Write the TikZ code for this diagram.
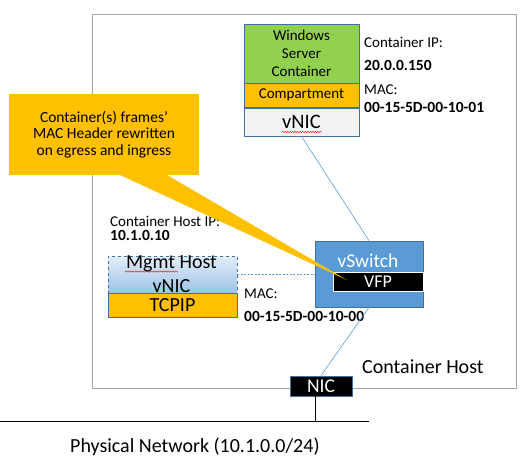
\documentclass[tikz,border=0pt]{standalone}
\usepackage{fontspec}
\setmainfont{Carlito}
\usetikzlibrary{decorations.pathmorphing}
\definecolor{hostgray}{HTML}{A6A6A6}
\definecolor{boxblue}{HTML}{41719C}
\definecolor{swblue}{HTML}{5B9BD5}
\definecolor{wingreen}{HTML}{92D050}
\definecolor{msorange}{HTML}{FFC000}
\definecolor{nicgray}{HTML}{F2F2F2}
\definecolor{mgmttop}{HTML}{E3EEF9}
\definecolor{mgmtbot}{HTML}{9DC3E6}
\tikzset{
  box/.style={draw=boxblue, line width=0.8pt, inner sep=0pt, align=center},
  lbl/.style={anchor=base west, inner sep=0pt, font=\fontsize{15}{18}\selectfont},
  val/.style={lbl, font=\fontsize{15.5}{18}\selectfont\bfseries},
  link/.style={draw=swblue, line width=0.6pt},
  squiggle/.style={draw=red, line width=0.4pt, decorate,
    decoration={snake, amplitude=0.7pt, segment length=2.5pt}}
}
\begin{document}
\begin{tikzpicture}[x=1pt,y=-1pt]
\useasboundingbox (0,0) rectangle (523,466);
\node[draw=hostgray, line width=0.8pt, minimum width=424pt, minimum height=374pt] (host) at (304,201) {};
\node[anchor=base west, inner sep=0pt, font=\fontsize{20}{24}\selectfont] (hostlbl) at (362,373) {Container Host};
% container
\node[box, fill=wingreen, minimum width=115pt, minimum height=59pt, font=\fontsize{15}{18}\selectfont] (win) at (301.5,53.5) {Windows\\Server\\Container};
\node[box, fill=msorange, minimum width=115pt, minimum height=24pt, font=\fontsize{15}{18}\selectfont] (comp) at (301.5,95) {Compartment};
\node[box, fill=nicgray, minimum width=115pt, minimum height=28pt, font=\fontsize{20.5}{24}\selectfont] (vnic) at (301.5,122) {vNIC};
\draw[squiggle] (282,132) -- (322,132);
\node[lbl] (cip) at (364,47) {Container IP:};
\node[val] (cipval) at (364,70) {20.0.0.150};
\node[lbl] (cmac) at (364,94) {MAC:};
\node[val] (cmacval) at (364,112) {00-15-5D-00-10-01};
% vswitch
\node[box, fill=swblue, minimum width=108pt, minimum height=66pt] (vswitch) at (369,274) {};
\node[anchor=base, inner sep=0pt, text=white, font=\fontsize{19.5}{22}\selectfont] (vswlbl) at (368,267) {vSwitch};
\node[draw=white, line width=0.8pt, fill=black, text=white, inner sep=0pt, minimum width=90pt, minimum height=19pt, font=\fontsize{18}{20}\selectfont] (vfp) at (378,281.5) {VFP};
% host side
\node[lbl] (hip) at (110,226) {Container Host IP:};
\node[val] (hipval) at (110,240) {10.1.0.10};
\node[box, dashed, top color=mgmttop, bottom color=mgmtbot, minimum width=129pt, minimum height=37pt] (mgmt) at (172.5,274.5) {};
\draw[link, dashed, dash pattern=on 2pt off 1.5pt] (mgmt.east) -- (mgmt.east -| vswitch.west);
\node[anchor=base, inner sep=0pt, font=\fontsize{20}{24}\selectfont] (mgmtlbl) at (171.5,268.5) {Mgmt Host};
\node[anchor=base, inner sep=0pt, font=\fontsize{20}{24}\selectfont] (mgmtnic) at (171.5,292) {vNIC};
\draw[squiggle] (125,271.5) -- (178,271.5);
\node[box, fill=msorange, minimum width=129pt, minimum height=24pt, font=\fontsize{20}{24}\selectfont] (tcpip) at (172.5,305) {TCPIP};
\node[lbl] (hmac) at (244,298) {MAC:};
\node[val] (hmacval) at (244,321) {00-15-5D-00-10-00};
% nic and network
\node[draw=boxblue, line width=0.8pt, fill=black, text=white, inner sep=0pt, minimum width=62pt, minimum height=20pt, font=\fontsize{19.5}{22}\selectfont] (nic) at (321,386) {NIC};
\coordinate (tap) at (315,421);
\draw[line width=0.8pt] (0,421) -- (369,421);
\draw[line width=0.8pt] (nic.south -| tap) -- (tap);
\node[anchor=base west, inner sep=0pt, font=\fontsize{20}{24}\selectfont] (net) at (70,452) {Physical Network (10.1.0.0/24)};
\draw[link] (vnic.south) -- (vswitch.north);
\draw[link] (vswitch.south) -- (nic.north);
% callout
\node[fill=msorange, inner sep=0pt, minimum width=190pt, minimum height=81pt, align=center, font=\fontsize{15.5}{16.5}\selectfont] (callout) at (104,134.5) {Container(s) frames'\\MAC Header rewritten\\on egress and ingress};
\coordinate (tip) at (347,280);
\fill[msorange] (120,175) -- (167,175) -- (tip) -- cycle;
\end{tikzpicture}
\end{document}
